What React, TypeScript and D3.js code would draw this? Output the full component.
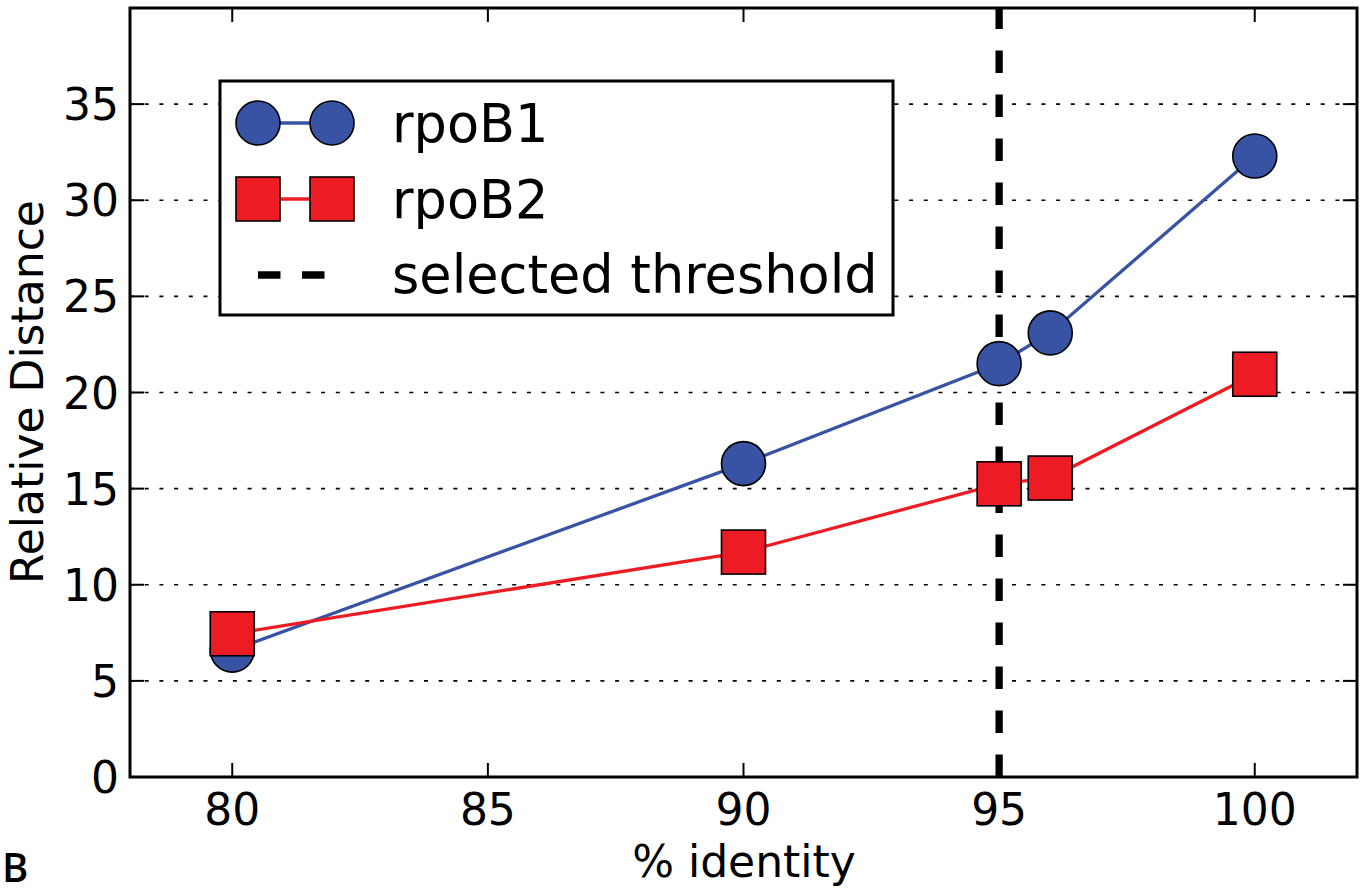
import * as d3 from "d3";

const identity = [80, 90, 95, 96, 100];
const rpoB1 = [6.6, 16.3, 21.5, 23.1, 32.3];
const rpoB2 = [7.45, 11.7, 15.25, 15.55, 20.95];
const threshold = 95;
const xTicks = [80, 85, 90, 95, 100];
const yTicks = [0, 5, 10, 15, 20, 25, 30, 35];

const BLUE = "#3953a4";
const RED = "#ed1c24";
const FONT = "'DejaVu Sans', sans-serif";

const W = 1361;
const H = 890;
const m = { left: 130, right: 1357, top: 8, bottom: 777 };

export default function App() {
  const x = d3.scaleLinear().domain([78, 102]).range([m.left, m.right]);
  const y = d3.scaleLinear().domain([0, 40]).range([m.bottom, m.top]);

  const line = d3
    .line<number>()
    .x((_, i) => x(identity[i]))
    .y((d) => y(d));

  const tickLen = 14;
  const r = 22;
  const sq = 44;

  return (
    <svg
      width={W}
      height={H}
      style={{ position: "absolute", left: 0, top: 0, background: "#fff" }}
      fontFamily={FONT}
    >
      <rect width={W} height={H} fill="#fff" />
      <defs>
        <clipPath id="plot">
          <rect x={m.left} y={m.top} width={m.right - m.left} height={m.bottom - m.top} />
        </clipPath>
      </defs>

      {/* dotted y grid */}
      {yTicks.slice(1).map((t) => (
        <line
          key={"g" + t}
          x1={m.left}
          x2={m.right}
          y1={y(t)}
          y2={y(t)}
          stroke="#000"
          strokeWidth={1.6}
          strokeDasharray="4,10.7"
        />
      ))}

      {/* selected threshold */}
      <line
        x1={x(threshold)}
        x2={x(threshold)}
        y1={y(0)}
        y2={y(40)}
        stroke="#000"
        strokeWidth={7.3}
        strokeDasharray="22.5,21.5"
        clipPath="url(#plot)"
      />

      {/* series lines */}
      <path d={line(rpoB1) || ""} fill="none" stroke={BLUE} strokeWidth={3.3} />
      <path d={line(rpoB2) || ""} fill="none" stroke={RED} strokeWidth={3.3} />

      {/* markers */}
      {rpoB1.map((v, i) => (
        <circle
          key={"c" + i}
          cx={x(identity[i])}
          cy={y(v)}
          r={r}
          fill={BLUE}
          stroke="#000"
          strokeWidth={1.6}
        />
      ))}
      {rpoB2.map((v, i) => (
        <rect
          key={"s" + i}
          x={x(identity[i]) - sq / 2}
          y={y(v) - sq / 2}
          width={sq}
          height={sq}
          fill={RED}
          stroke="#000"
          strokeWidth={1.6}
        />
      ))}

      {/* ticks */}
      {xTicks.map((t) => (
        <g key={"xt" + t}>
          <line x1={x(t)} x2={x(t)} y1={m.bottom} y2={m.bottom - tickLen} stroke="#000" strokeWidth={2} />
          <line x1={x(t)} x2={x(t)} y1={m.top} y2={m.top + tickLen} stroke="#000" strokeWidth={2} />
          <text x={x(t)} y={825} textAnchor="middle" fontSize={44} fill="#000">
            {t}
          </text>
        </g>
      ))}
      {yTicks.map((t) => (
        <g key={"yt" + t}>
          <line x1={m.left} x2={m.left + tickLen} y1={y(t)} y2={y(t)} stroke="#000" strokeWidth={2} />
          <line x1={m.right} x2={m.right - tickLen} y1={y(t)} y2={y(t)} stroke="#000" strokeWidth={2} />
          <text x={119} y={y(t) + 16} textAnchor="end" fontSize={44} fill="#000">
            {t}
          </text>
        </g>
      ))}

      {/* frame */}
      <rect
        x={m.left}
        y={m.top}
        width={m.right - m.left}
        height={m.bottom - m.top}
        fill="none"
        stroke="#000"
        strokeWidth={3}
      />

      {/* axis labels */}
      <text x={744} y={877} textAnchor="middle" fontSize={44} fill="#000">
        % identity
      </text>
      <text
        transform={`translate(43,392) rotate(-90)`}
        textAnchor="middle"
        fontSize={44}
        fill="#000"
      >
        Relative Distance
      </text>

      {/* legend */}
      <g>
        <rect x={220} y={81} width={673} height={234} fill="#fff" stroke="#000" strokeWidth={3} />
        <line x1={258} x2={332} y1={123} y2={123} stroke={BLUE} strokeWidth={3.3} />
        <circle cx={258} cy={123} r={r} fill={BLUE} stroke="#000" strokeWidth={1.6} />
        <circle cx={332} cy={123} r={r} fill={BLUE} stroke="#000" strokeWidth={1.6} />
        <text x={392} y={142} fontSize={52.5} fill="#000">rpoB1</text>

        <line x1={258} x2={332} y1={199} y2={199} stroke={RED} strokeWidth={3.3} />
        <rect x={258 - sq / 2} y={199 - sq / 2} width={sq} height={sq} fill={RED} stroke="#000" strokeWidth={1.6} />
        <rect x={332 - sq / 2} y={199 - sq / 2} width={sq} height={sq} fill={RED} stroke="#000" strokeWidth={1.6} />
        <text x={392} y={218} fontSize={52.5} fill="#000">rpoB2</text>

        <line
          x1={258}
          x2={325}
          y1={275}
          y2={275}
          stroke="#000"
          strokeWidth={7.5}
          strokeDasharray="22.5,21.5"
        />
        <text x={392} y={293} fontSize={52.5} fill="#000">selected threshold</text>
      </g>

      {/* panel letter */}
      <text x={2} y={882} fontSize={40} fontWeight={600} fontFamily="'Open Sans', sans-serif" fill="#000">
        B
      </text>
    </svg>
  );
}
